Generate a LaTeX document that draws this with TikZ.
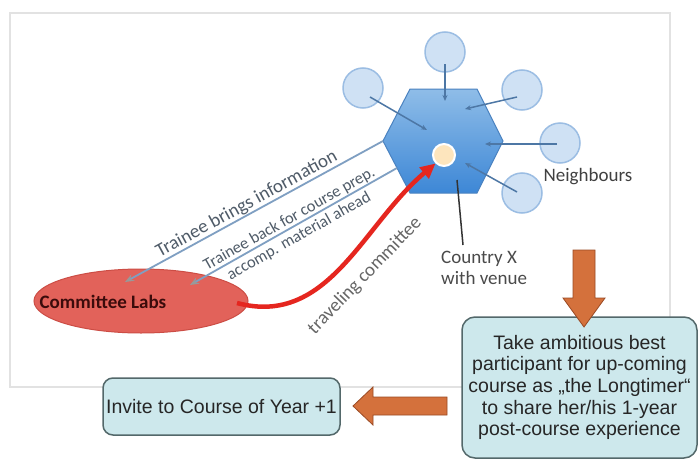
\documentclass[tikz,border=0pt]{standalone}
\usepackage{fontspec}
\setmainfont{Carlito}
\newfontfamily\arialf{Liberation Sans}
\usetikzlibrary{arrows.meta,calc,shapes.geometric}
\definecolor{hexTop}{HTML}{8FBDE8}
\definecolor{hexBot}{HTML}{3D87D6}
\definecolor{hexLine}{HTML}{4A82C0}
\definecolor{nbFill}{HTML}{CFE1F4}
\definecolor{nbLine}{HTML}{9BBDE3}
\definecolor{nbArrow}{HTML}{4D77A5}
\definecolor{trLine}{HTML}{7F9FC2}
\definecolor{labsFill}{HTML}{E2625A}
\definecolor{labsLine}{HTML}{CC4D45}
\definecolor{labsText}{HTML}{3B0B0B}
\definecolor{redc}{HTML}{E5261F}
\definecolor{boxFill}{HTML}{CDE8EC}
\definecolor{boxLine}{HTML}{53686A}
\definecolor{orangeF}{HTML}{D4713C}
\definecolor{orangeL}{HTML}{9A4A24}
\definecolor{txtGray}{HTML}{4A4A4A}
\definecolor{lblBlue}{HTML}{4F5B68}
\definecolor{frameC}{HTML}{E2E2E2}
\definecolor{venueC}{HTML}{FDE5BD}
\begin{document}
\begin{tikzpicture}[x=1pt,y=-1pt,
  nb/.style={circle,fill=nbFill,draw=nbLine,line width=1.5,minimum size=40,inner sep=0},
  nbarrow/.style={draw=nbArrow,line width=1.5,-{Stealth[length=6,width=5]}},
  trline/.style={draw=trLine,line width=1.8,{Stealth[length=9,width=7,color=gray!80]}-},
  redarrow/.style={draw=redc,line width=4.5,-{Triangle[length=15,width=14]}},
  lbl/.style={font=\fontsize{19}{21}\selectfont,text=lblBlue,inner sep=0.5},
  lblsmall/.style={font=\fontsize{16.5}{19.5}\selectfont,text=lblBlue,inner sep=0,align=center},
  plain/.style={font=\fontsize{19}{21}\selectfont,text=txtGray,inner sep=0},
  infobox/.style={draw=boxLine,fill=boxFill,line width=1.5,rounded corners=13,
    font=\arialf\fontsize{19.5}{21.6}\selectfont,text=black!85,align=center,inner sep=0},
  bigarrow/.style={fill=orangeF,draw=orangeL,line width=0.8,line join=miter}
]
\useasboundingbox (0,0) rectangle (700,460);
\fill[white] (0,0) rectangle (700,460);
\draw[frameC,line width=1.8] (10,13) rectangle (670,387);

% hexagon (Country X)
\coordinate (hL) at (383,141);
\coordinate (hB) at (397,168);
\shade[top color=hexTop,bottom color=hexBot,draw=hexLine,line width=1]
  (383,141)--(410,89)--(477,89)--(503,141)--(477,193)--(410,193)--cycle;

% neighbours
\node[nb] (n1) at (445,52) {};
\node[nb] (n2) at (363,88) {};
\node[nb] (n3) at (522,90) {};
\node[nb] (n4) at (560,143) {};
\node[nb] (n5) at (522,193) {};
\coordinate (a1) at (445,64);  \coordinate (h1) at (445,101);
\coordinate (a2) at (370,97);  \coordinate (h2) at (427,130);
\coordinate (a3) at (517,97);  \coordinate (h3) at (465,109);
\coordinate (a4) at (557,144); \coordinate (h4) at (485,144);
\coordinate (a5) at (517,192); \coordinate (h5) at (465,163);
\draw[nbarrow] (a1) -- (h1);
\draw[nbarrow] (a2) -- (h2);
\draw[nbarrow] (a3) -- (h3);
\draw[nbarrow] (a4) -- (h4);
\draw[nbarrow] (a5) -- (h5);
\node[plain,text=black!75] (neigh) at (588,177) {Neighbours};

% venue
\node[circle,fill=venueC,draw=white,line width=2,minimum size=22,inner sep=0] (venue) at (444,155) {};

% country label
\coordinate (cA) at (457,180);
\coordinate (cB) at (463,245);
\draw[black!80,line width=1.5] (cA) -- (cB);
\node[plain,anchor=west,align=left] (country) at (441,267.5) {Country X\\with venue};

% committee labs
\node[ellipse,fill=labsFill,draw=labsLine,line width=1,minimum width=214,minimum height=64,inner sep=0] (labs) at (141,301) {};
\node[font=\bfseries\fontsize{19}{21}\selectfont,text=labsText,inner sep=0] (labstext) at (103,302) {Committee Labs};

\coordinate (la) at (125,282);
\coordinate (lb) at (190,285);
\draw[trline] (la) -- node[lbl,sloped,above,pos=0.49] (l1) {Trainee brings information} (hL);
\draw[trline] (lb) -- node[lblsmall,sloped,pos=0.5,yshift=-1.5] (l2) {Trainee back for course prep.\\accomp. material ahead} (hB);

% traveling committee
\coordinate (rs) at (237,303);
\draw[redarrow] (rs) to[out=-15,in=220] (venue.225);
\node[plain,text=black!60,rotate=46] (trav) at (365,276) {traveling committee};

% boxes
\node[infobox,minimum width=235,minimum height=141] (take) at (579.5,387.5)
  {Take ambitious best\\participant for up-coming\\course as „the Longtimer“\\to share her/his 1-year\\post-course experience};
\node[infobox,rounded corners=10,minimum width=237,minimum height=57] (invite) at (221.5,406.5)
  {Invite to Course of Year +1};

% orange arrows
\draw[bigarrow] (573,250) -- (595,250) -- (595,298) -- (605,298) -- (584,327) -- (563,298) -- (573,298) -- cycle;
\draw[bigarrow] (447,397) -- (447,415) -- (373,415) -- (373,425) -- (353,406) -- (373,387) -- (373,397) -- cycle;
\end{tikzpicture}
\end{document}
